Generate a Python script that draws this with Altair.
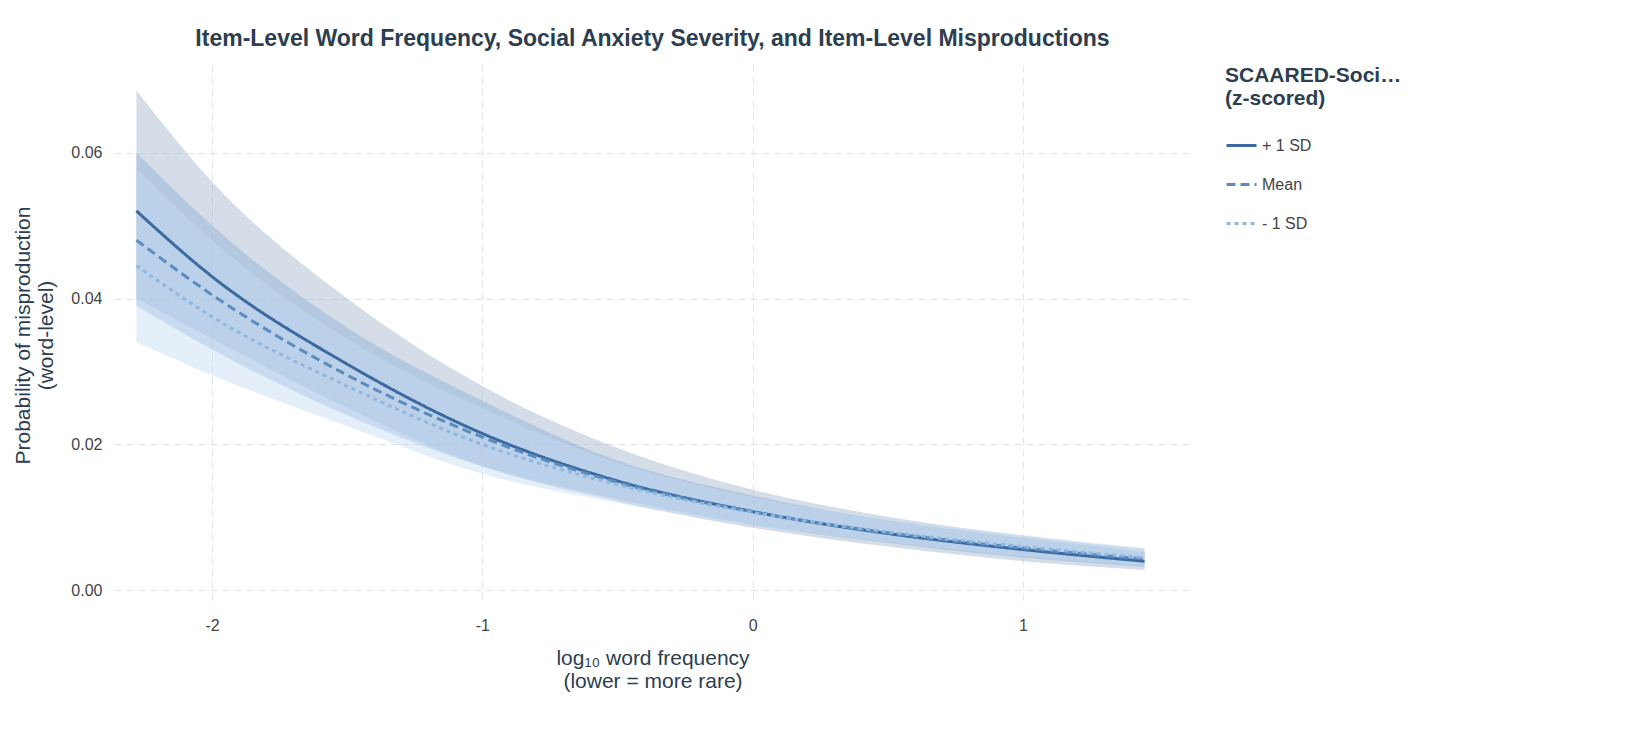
import altair as alt
import pandas as pd

xs = [-2.28, -2.0, -1.5, -1.0, -0.5, 0.0, 0.5, 1.0, 1.45]
series = ["+ 1 SD", "Mean", "- 1 SD"]
fit_plus = [0.052, 0.043, 0.031, 0.0215, 0.0150, 0.0108, 0.0078, 0.0056, 0.0040]
fit_mean = [0.048, 0.0405, 0.0295, 0.0210, 0.0148, 0.0108, 0.0079, 0.0058, 0.0043]
fit_minus = [0.0445, 0.0375, 0.0280, 0.0200, 0.0145, 0.0107, 0.0080, 0.0060, 0.0045]
lo_plus = [0.040, 0.0345, 0.0250, 0.0170, 0.0122, 0.0086, 0.0060, 0.0040, 0.0028]
hi_plus = [0.0685, 0.0560, 0.0400, 0.0280, 0.0195, 0.0138, 0.0101, 0.0075, 0.0057]
lo_mean = [0.039, 0.0330, 0.0240, 0.0170, 0.0125, 0.0090, 0.0065, 0.0045, 0.0032]
hi_mean = [0.060, 0.0500, 0.0360, 0.0260, 0.0178, 0.0130, 0.0096, 0.0072, 0.0053]
lo_minus = [0.034, 0.0295, 0.0225, 0.0160, 0.0120, 0.0088, 0.0066, 0.0047, 0.0033]
hi_minus = [0.058, 0.0480, 0.0345, 0.0250, 0.0175, 0.0128, 0.0097, 0.0076, 0.0058]

rows = []
for s, f, lo, hi in zip(series, [fit_plus, fit_mean, fit_minus],
                        [lo_plus, lo_mean, lo_minus], [hi_plus, hi_mean, hi_minus]):
    for x, a, b, c in zip(xs, f, lo, hi):
        rows.append({"x": x, "fit": a, "lo": b, "hi": c, "s": s})
df = pd.DataFrame(rows)

xsc = alt.Scale(domain=[-2.363, 1.622], nice=False, zero=False)
ysc = alt.Scale(domain=[-0.002, 0.072], nice=False, zero=False)
line_colors = ["#3b6aa0", "#5b8cc0", "#8fb8e0"]
band_colors = ["#9fb4cc", "#8fb0d8", "#c4dcf4"]

base = alt.Chart(df)
band_layers = []
for s, c in zip(series, band_colors):
    band_layers.append(base.transform_filter(alt.datum.s == s).mark_area(
        interpolate="monotone", opacity=0.45, color=c).encode(
        x=alt.X("x:Q", scale=xsc), y=alt.Y("lo:Q", scale=ysc), y2="hi:Q"))

ltitle = ["SCAARED-Social score", "(z-scored)"]
lines = base.mark_line(interpolate="monotone", strokeWidth=3).encode(
    x=alt.X("x:Q", scale=xsc,
            axis=alt.Axis(values=[-2, -1, 0, 1], format="d",
                          labelExpr="replace(datum.label, '−', '-')",
                          title=["log₁₀ word frequency", "(lower = more rare)"])),
    y=alt.Y("fit:Q", scale=ysc,
            axis=alt.Axis(values=[0, 0.02, 0.04, 0.06], format=".2f",
                          title=["Probability of misproduction", "(word-level)"])),
    color=alt.Color("s:N", scale=alt.Scale(domain=series, range=line_colors), title=ltitle),
    strokeDash=alt.StrokeDash("s:N", scale=alt.Scale(domain=series, range=[[1, 0], [9, 5], [4, 4]]),
                              title=ltitle),
)

chart = alt.layer(*band_layers, lines).properties(
    width=1077, height=540,
    padding={"left": 4, "top": 20, "right": 5, "bottom": 5},
    title=alt.TitleParams("Item-Level Word Frequency, Social Anxiety Severity, and Item-Level Misproductions",
                          fontSize=23, font="Liberation Sans", fontWeight="bold", color="#2c3e50",
                          anchor="middle", offset=14),
).configure_view(stroke=None).configure_axis(
    grid=True, gridDash=[7, 5], gridColor="#e3e3e3", domain=False, ticks=False,
    labelFont="Liberation Sans", labelFontSize=16, labelColor="#444", labelPadding=12,
    titleFont="Liberation Sans", titleFontSize=21, titleFontWeight="normal", titleColor="#2c3e50", titlePadding=14,
).configure_legend(
    titleFont="Liberation Sans", titleFontSize=21, titleColor="#2c3e50", titleFontWeight="bold",
    labelFont="Liberation Sans", labelFontSize=16, labelColor="#444", symbolType="stroke",
    symbolSize=900, symbolStrokeWidth=3, rowPadding=14, offset=34, titlePadding=20,
    orient="right",
)
chart.save("out.html", embed_options={"renderer": "svg", "actions": False})
